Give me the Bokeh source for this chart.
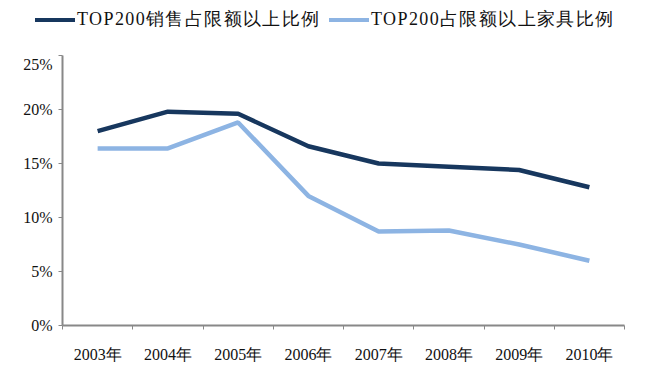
from bokeh.plotting import figure
from bokeh.layouts import column
from bokeh.models import Range1d, FixedTicker, NumeralTickFormatter, Div
from bokeh.embed import file_html
from bokeh.resources import INLINE

years = ["2003年", "2004年", "2005年", "2006年", "2007年", "2008年", "2009年", "2010年"]
sales_ratio = [0.180, 0.198, 0.196, 0.166, 0.150, 0.147, 0.144, 0.128]
furniture_ratio = [0.164, 0.164, 0.188, 0.120, 0.087, 0.088, 0.075, 0.060]
series_names = ["TOP200销售占限额以上比例", "TOP200占限额以上家具比例"]
series_colors = ["#17375E", "#8DB4E3"]
y_ticks = [0, 0.05, 0.10, 0.15, 0.20, 0.25]

FONT = "Liberation Serif"

xs = [i + 0.5 for i in range(len(years))]
bounds = [i for i in range(len(years) + 1)]

# legend strip on top (HTML text)
key_left = [35, 329]
items_html = ""
for name, color, kx in zip(series_names, series_colors, key_left):
    items_html += (
        f'<span style="position:absolute;left:{kx}px;top:18px;width:40px;height:4px;'
        f'background:{color};"></span>'
        f'<span style="position:absolute;left:{kx + 42}px;top:8px;white-space:nowrap;'
        f'letter-spacing:1.4px;">{name}</span>'
    )
legend_div = Div(
    text=(f'<div style="position:relative;width:646px;height:55px;font-family:\'{FONT}\', serif;'
          f'font-size:18px;line-height:22px;color:#111111;">{items_html}</div>'),
    width=646, height=55, margin=(0, 0, 0, 0))

p = figure(width=646, height=323, output_backend="svg", toolbar_location=None,
           x_range=Range1d(0, len(years)), y_range=Range1d(0, 0.25),
           min_border_left=62, min_border_right=22, min_border_top=0, min_border_bottom=53)
p.outline_line_color = None
p.xgrid.visible = False
p.ygrid.visible = False
p.background_fill_color = "white"
p.border_fill_color = "white"

p.line(xs, sales_ratio, line_color=series_colors[0], line_width=4.5)
p.line(xs, furniture_ratio, line_color=series_colors[1], line_width=4.5)

# x axis
xa = p.xaxis[0]
xa.ticker = FixedTicker(ticks=xs, minor_ticks=bounds)
xa.major_label_overrides = {x: y for x, y in zip(xs, years)}
xa.major_tick_out = 0
xa.major_tick_in = 0
xa.minor_tick_out = 4
xa.minor_tick_in = 0
xa.minor_tick_line_color = "#888888"
xa.axis_line_color = "#888888"
xa.axis_line_width = 2
xa.major_label_standoff = 16
xa.major_label_text_font = FONT
xa.major_label_text_font_size = "16px"
xa.major_label_text_color = "#111111"

ya = p.yaxis[0]
ya.ticker = FixedTicker(ticks=y_ticks)
ya.formatter = NumeralTickFormatter(format="0%")
ya.major_tick_out = 4
ya.major_tick_in = 0
ya.minor_tick_out = 0
ya.minor_tick_in = 0
ya.major_tick_line_color = "#888888"
ya.axis_line_color = "#888888"
ya.axis_line_width = 2
ya.major_label_standoff = 6
ya.major_label_text_font = FONT
ya.major_label_text_font_size = "16px"
ya.major_label_text_color = "#111111"

layout = column(legend_div, p, spacing=0)
open("out.html", "w").write(file_html(layout, INLINE))
